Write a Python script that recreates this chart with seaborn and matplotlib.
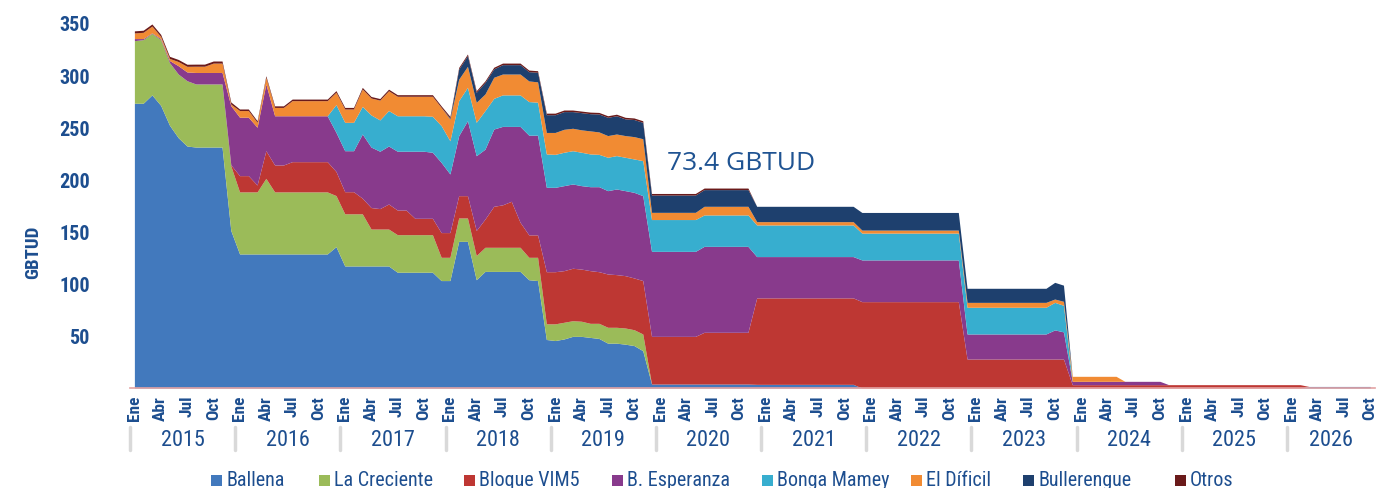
import matplotlib

matplotlib.use("Agg")
import matplotlib.pyplot as plt
import numpy as np
import pandas as pd
import seaborn as sns
from matplotlib import font_manager
from matplotlib.lines import Line2D
from matplotlib.patches import Rectangle


FIELDS = ["Ballena", "La Creciente", "Bloque VIM5", "B. Esperanza",
          "Bonga Mamey", "El Díficil", "Bullerengue", "Otros"]
COLORS = ["#4279BD", "#9BBB59", "#BE3733", "#883A8C",
          "#37AECF", "#F18B33", "#1E406E", "#6A1A1A"]
YEARS = [2015, 2016, 2017, 2018, 2019, 2020, 2021, 2022, 2023, 2024, 2025, 2026]
MONTH_LABELS = ["Ene", "Abr", "Jul", "Oct"]
Y_TICKS = [50, 100, 150, 200, 250, 300, 350]

# monthly values, Jan 2015 .. Oct 2026, one row per year
ballena = [
    273, 273, 281, 271, 252, 240, 232, 231, 231, 231, 231, 151,
    128.5, 128.5, 128.5, 128.5, 128.5, 128.5, 128.5, 128.5, 128.5, 128.5, 128.5, 135.5,
    117, 117, 117, 117, 117, 117, 111, 111, 111, 111, 111, 103,
    103, 140.6, 140.6, 103.8, 111.8, 111.8, 111.8, 111.8, 111.8, 103.8, 103, 46.5,
    45.5, 47, 49.5, 49.5, 48.5, 47.5, 43, 43, 42, 40.7, 35.8, 3.8,
    3.8, 3.8, 3.8, 3.8, 3.8, 3.8, 3.8, 3.8, 3.8, 3.8, 3.8, 3.5,
    3.5, 3.5, 3.5, 3.5, 3.5, 3.5, 3.5, 3.5, 3.5, 3.5, 3.5, 0,
    0, 0, 0, 0, 0, 0, 0, 0, 0, 0, 0, 0,
    0, 0, 0, 0, 0, 0, 0, 0, 0, 0, 0, 0,
    0, 0, 0, 0, 0, 0, 0, 0, 0, 0, 0, 0,
    0, 0, 0, 0, 0, 0, 0, 0, 0, 0, 0, 0,
    0, 0, 1.5, 1.5, 1.5, 1.5, 1.5, 1.5, 1.5, 1.5,
]
la_creciente = [
    60, 61, 59, 63, 60, 61, 62.6, 60.5, 60.5, 60.5, 60.5, 62,
    59.5, 59.5, 59.5, 72.5, 59.5, 59.5, 59.5, 59.5, 59.5, 59.5, 59.5, 49,
    50, 50, 50, 35.4, 35.4, 35.4, 36, 36, 36, 36, 36, 22.3,
    22.3, 22.4, 22.4, 23.2, 23.1, 23.1, 23.1, 23.1, 23.1, 21.5, 22.3, 15,
    16, 16, 15, 14.5, 13.5, 14.5, 15.2, 15.2, 15.5, 15.2, 16, 0,
    0, 0, 0, 0, 0, 0, 0, 0, 0, 0, 0, 0,
    0, 0, 0, 0, 0, 0, 0, 0, 0, 0, 0, 0,
    0, 0, 0, 0, 0, 0, 0, 0, 0, 0, 0, 0,
    0, 0, 0, 0, 0, 0, 0, 0, 0, 0, 0, 0,
    0, 0, 0, 0, 0, 0, 0, 0, 0, 0, 0, 0,
    0, 0, 0, 0, 0, 0, 0, 0, 0, 0, 0, 0,
    0, 0, 0, 0, 0, 0, 0, 0, 0, 0,
]
bloque_vim5 = [
    0, 0, 0, 0, 0, 0, 0, 0, 0, 0, 0, 1,
    15.6, 15.6, 6.6, 26.5, 25.8, 25.8, 29, 29, 29, 29, 29, 23.1,
    21.2, 21.2, 15, 20.6, 19.6, 24, 23.6, 23.6, 15.7, 15.7, 15.7, 23.7,
    23.7, 21.4, 21.4, 24, 27.1, 39.3, 40.7, 44.1, 24, 21.5, 21.5, 50,
    50, 49.5, 50.3, 50, 50.5, 49.5, 51.1, 50.5, 50.2, 49.6, 51.2, 45.7,
    45.7, 45.7, 45.7, 45.7, 45.7, 49.6, 49.6, 49.6, 49.6, 49.6, 49.6, 82.9,
    82.9, 82.9, 82.9, 82.9, 82.9, 82.9, 82.9, 82.9, 82.9, 82.9, 82.9, 82.8,
    82.8, 82.8, 82.8, 82.8, 82.8, 82.8, 82.8, 82.8, 82.8, 82.8, 82.8, 27.8,
    27.8, 27.8, 27.8, 27.8, 27.8, 27.8, 27.8, 27.8, 27.8, 27.8, 27.8, 3.2,
    3.2, 3.2, 3.2, 3.2, 3.2, 3.2, 3.2, 3.2, 3.2, 3.2, 3.2, 3.2,
    3.2, 3.2, 3.2, 3.2, 3.2, 3.2, 3.2, 3.2, 3.2, 3.2, 3.2, 3.2,
    3.2, 3.2, 0, 0, 0, 0, 0, 0, 0, 0,
]
b_esperanza = [
    2, 1, 0.5, 1, 2, 8, 8.4, 11, 11, 11, 11, 56.7,
    56, 56, 55.4, 64, 47.2, 47.2, 44, 44, 44, 44, 44, 37.5,
    39.3, 39.3, 61.5, 58, 55, 55.6, 56.4, 56.4, 64.3, 64.3, 63.3, 67.3,
    56.2, 57.5, 71.9, 71.7, 67, 74.1, 75.2, 71.8, 91.9, 95.6, 95.6, 80.9,
    80.9, 81.5, 80.8, 80, 80.5, 81.5, 79.9, 82.1, 81.5, 82.1, 81.4, 81.5,
    81.5, 81.5, 81.5, 81.5, 81.5, 82.4, 82.4, 82.4, 82.4, 82.4, 82.4, 39.6,
    39.6, 39.6, 39.6, 39.6, 39.6, 39.6, 39.6, 39.6, 39.6, 39.6, 39.6, 40,
    40, 40, 40, 40, 40, 40, 40, 40, 40, 40, 40, 24,
    24, 24, 24, 24, 24, 24, 24, 24, 24, 27.9, 26, 3.2,
    3.2, 3.2, 3.2, 3.2, 3.2, 3.2, 3.2, 3.2, 3.2, 3.2, 0, 0,
    0, 0, 0, 0, 0, 0, 0, 0, 0, 0, 0, 0,
    0, 0, 0, 0, 0, 0, 0, 0, 0, 0,
]
bonga_mamey = [
    0, 0, 0, 0, 0, 0, 0, 0, 0, 0, 0, 0,
    0, 0, 0, 0, 0, 0, 0, 0, 0, 0, 0, 26.6,
    27.2, 27.2, 26.5, 30.8, 30, 34, 34, 34, 34, 34, 34.5, 35.3,
    31.8, 33.6, 32, 32, 37, 29.4, 30.2, 30.2, 30.2, 32.2, 31.6, 32,
    31.6, 32, 31.9, 32, 31.4, 31, 32, 32, 32, 32, 33.6, 30.5,
    30.5, 30.5, 30.5, 30.5, 30.5, 30.1, 30.1, 30.1, 30.1, 30.1, 30.1, 30.3,
    30.3, 30.3, 30.3, 30.3, 30.3, 30.3, 30.3, 30.3, 30.3, 30.3, 30.3, 25.7,
    25.7, 25.7, 25.7, 25.7, 25.7, 25.7, 25.7, 25.7, 25.7, 25.7, 25.7, 25.6,
    25.6, 25.6, 25.6, 25.6, 25.6, 25.6, 25.6, 25.6, 25.6, 26.4, 25.5, 0,
    0, 0, 0, 0, 0, 0, 0, 0, 0, 0, 0, 0,
    0, 0, 0, 0, 0, 0, 0, 0, 0, 0, 0, 0,
    0, 0, 0, 0, 0, 0, 0, 0, 0, 0,
]
el_dificil = [
    5.4, 6, 6.5, 2, 2, 4, 5.4, 6, 6, 9, 9, 1.5,
    6.4, 6.4, 4.7, 6.4, 8, 8, 14.5, 14.5, 14.5, 14.5, 14.5, 11.9,
    12.8, 12.8, 16.7, 16.2, 19, 19, 18.7, 18.7, 18.7, 18.7, 19.2, 17.4,
    20.9, 20.5, 20.1, 19.2, 15.9, 20.2, 20, 20, 20, 19.8, 19.5, 20.6,
    21, 22, 21.5, 21.5, 22.1, 21.5, 20.8, 20.7, 20.8, 21.4, 21, 6.9,
    6.9, 6.9, 6.9, 6.9, 6.9, 8.3, 8.3, 8.3, 8.3, 8.3, 8.3, 3.2,
    3.2, 3.2, 3.2, 3.2, 3.2, 3.2, 3.2, 3.2, 3.2, 3.2, 3.2, 2.9,
    2.9, 2.9, 2.9, 2.9, 2.9, 2.9, 2.9, 2.9, 2.9, 2.9, 2.9, 4.7,
    4.7, 4.7, 4.7, 4.7, 4.7, 4.7, 4.7, 4.7, 4.7, 3.2, 3.8, 4.8,
    4.8, 4.8, 4.8, 4.8, 4.8, 0, 0, 0, 0, 0, 0, 0,
    0, 0, 0, 0, 0, 0, 0, 0, 0, 0, 0, 0,
    0, 0, 0, 0, 0, 0, 0, 0, 0, 0,
]
bullerengue = [
    0, 0, 0, 0, 0, 0, 0, 0, 0, 0, 0, 0,
    0, 0, 0, 0, 0, 0, 0, 0, 0, 0, 0, 0,
    0, 0, 0, 0, 0, 0, 0, 0, 0, 0, 0, 0,
    1, 9.8, 10.3, 9.6, 11.1, 8.1, 9, 9, 9, 8.9, 9.2, 17,
    17, 17, 16, 16.5, 16.5, 17.2, 17.5, 17.5, 16, 16.4, 15.7, 16.6,
    16.6, 16.6, 16.6, 16.6, 16.6, 16, 16, 16, 16, 16, 16, 14.7,
    14.7, 14.7, 14.7, 14.7, 14.7, 14.7, 14.7, 14.7, 14.7, 14.7, 14.7, 16.9,
    16.9, 16.9, 16.9, 16.9, 16.9, 16.9, 16.9, 16.9, 16.9, 16.9, 16.9, 13.5,
    13.5, 13.5, 13.5, 13.5, 13.5, 13.5, 13.5, 13.5, 13.5, 16, 15.5, 0,
    0, 0, 0, 0, 0, 0, 0, 0, 0, 0, 0, 0,
    0, 0, 0, 0, 0, 0, 0, 0, 0, 0, 0, 0,
    0, 0, 0, 0, 0, 0, 0, 0, 0, 0,
]
otros = [
    2, 2, 2, 2, 2, 2, 2, 2, 2, 2, 2, 2,
    1.5, 1.5, 1.5, 1.5, 1.5, 1.5, 1.5, 1.5, 1.5, 1.5, 1.5, 1.5,
    1.5, 1.5, 1.5, 1.5, 1.5, 1.5, 1.5, 1.5, 1.5, 1.5, 1.5, 1.5,
    1.5, 1.5, 1.5, 1.5, 1.5, 1.5, 1.5, 1.5, 1.5, 1.5, 1.5, 1.5,
    1.5, 1.5, 1.5, 1.5, 1.5, 1.5, 1.5, 1.5, 1.5, 1.5, 1.5, 1.5,
    1.5, 1.5, 1.5, 1.5, 1.5, 1.5, 1.5, 1.5, 1.5, 1.5, 1.5, 0,
    0, 0, 0, 0, 0, 0, 0, 0, 0, 0, 0, 0,
    0, 0, 0, 0, 0, 0, 0, 0, 0, 0, 0, 0,
    0, 0, 0, 0, 0, 0, 0, 0, 0, 0, 0, 0,
    0, 0, 0, 0, 0, 0, 0, 0, 0, 0, 0, 0,
    0, 0, 0, 0, 0, 0, 0, 0, 0, 0, 0, 0,
    0, 0, 0, 0, 0, 0, 0, 0, 0, 0,
]
SERIES = [ballena, la_creciente, bloque_vim5, b_esperanza,
          bonga_mamey, el_dificil, bullerengue, otros]

TEXT = "#1D4E8F"
W, H, DPI = 1379, 489, 100
CONDENSED = {"condensed", "semi-condensed", "extra-condensed", "ultra-condensed"}


def pick_narrow_font() -> tuple[str, bool]:
    """Return a family that ships a condensed face, and whether one was found."""
    fams = set()
    for f in font_manager.fontManager.ttflist:
        if str(f.stretch) in CONDENSED or "Narrow" in f.name or "Condensed" in f.name:
            fams.add(f.name)
    for name in ["Liberation Sans Narrow", "Roboto Condensed", "Roboto",
                 "Noto Sans", "Open Sans", "DejaVu Sans Condensed", "DejaVu Sans"]:
        if name in fams:
            return name, True
    if fams:
        return sorted(fams)[0], True
    return "DejaVu Sans", False


def main() -> None:
    for s in SERIES:
        assert len(s) == len(ballena)
    n_months = len(ballena)
    months = np.arange(n_months)

    sns.set_style("white")
    narrow, found = pick_narrow_font()
    plt.rcParams["font.family"] = [narrow, "DejaVu Sans"]
    if found:
        plt.rcParams["font.stretch"] = "condensed"
    k = 1.0 if found else 0.82  # shrink text when only a wide face exists

    fig = plt.figure(figsize=(W / DPI, H / DPI), dpi=DPI)
    axw, axh = n_months * 8.765, 375.5
    ax = fig.add_axes([130 / W, 100 / H, axw / W, axh / H])

    long = pd.DataFrame({
        "mes": np.tile(months, len(FIELDS)),
        "campo": np.repeat(FIELDS, n_months),
        "gbtud": np.concatenate([np.asarray(s, dtype=float) for s in SERIES]),
    })
    sns.histplot(data=long, x="mes", weights="gbtud", hue="campo",
                 hue_order=FIELDS[::-1], palette=dict(zip(FIELDS, COLORS)),
                 multiple="stack", discrete=True, element="poly",
                 alpha=1, linewidth=0, legend=False, ax=ax)

    ax.set_xlim(-0.5, n_months - 0.5)
    ax.set_ylim(0, 360)
    ax.set_xlabel("")
    ax.set_ylabel("GBTUD", fontsize=13.5 * k, fontweight="bold", color=TEXT)
    ax.yaxis.set_label_coords(-88 / axw, 0.365)

    ax.set_yticks(Y_TICKS)
    ax.set_yticklabels([str(v) for v in Y_TICKS], fontsize=14.5 * k,
                       fontweight="bold", color=TEXT)
    ax.tick_params(axis="y", length=0, pad=29)

    tick_pos = months[::3]
    ax.set_xticks(tick_pos)
    ax.set_xticklabels([MONTH_LABELS[i % 4] for i in range(len(tick_pos))],
                       rotation=90, fontsize=12.5 * k, fontweight="bold", color=TEXT)
    ax.tick_params(axis="x", length=0, pad=5)

    for side in ["top", "right", "left"]:
        ax.spines[side].set_visible(False)
    ax.spines["bottom"].set_color("#E3A3A3")
    ax.spines["bottom"].set_linewidth(1.2)

    trans = ax.get_xaxis_transform()
    for i, year in enumerate(YEARS):
        start = 12 * i - 0.5
        end = min(12 * (i + 1), n_months) - 0.5
        ax.text((start + end) / 2, -(441 - 389) / axh, str(year), transform=trans,
                ha="center", va="center", fontsize=16 * k, color=TEXT)
        ax.add_line(Line2D([start, start], [-(428 - 389) / axh, -(451 - 389) / axh],
                           transform=trans, color="#D9D9D9", lw=2.5, clip_on=False))

    ax.text(60.8, 210, "73.4 GBTUD", fontsize=19, color="#1F5392",
            family=["Open Sans", "DejaVu Sans"], stretch="normal",
            ha="left", va="baseline")

    # legend row along the bottom
    legend_x = [211, 319, 464, 612, 762, 911, 1023, 1175]
    yc = 481
    for x, name, color in zip(legend_x, FIELDS, COLORS):
        fig.add_artist(Rectangle((x / W, 1 - (yc + 5.5) / H), 11 / W, 11 / H,
                                 transform=fig.transFigure, facecolor=color,
                                 edgecolor="none"))
        fig.text((x + 15) / W, 1 - yc / H, name, ha="left", va="center",
                 fontsize=14.5 * k, color=TEXT)

    fig.savefig("out.png", dpi=DPI)
    plt.close(fig)


if __name__ == "__main__":
    main()
